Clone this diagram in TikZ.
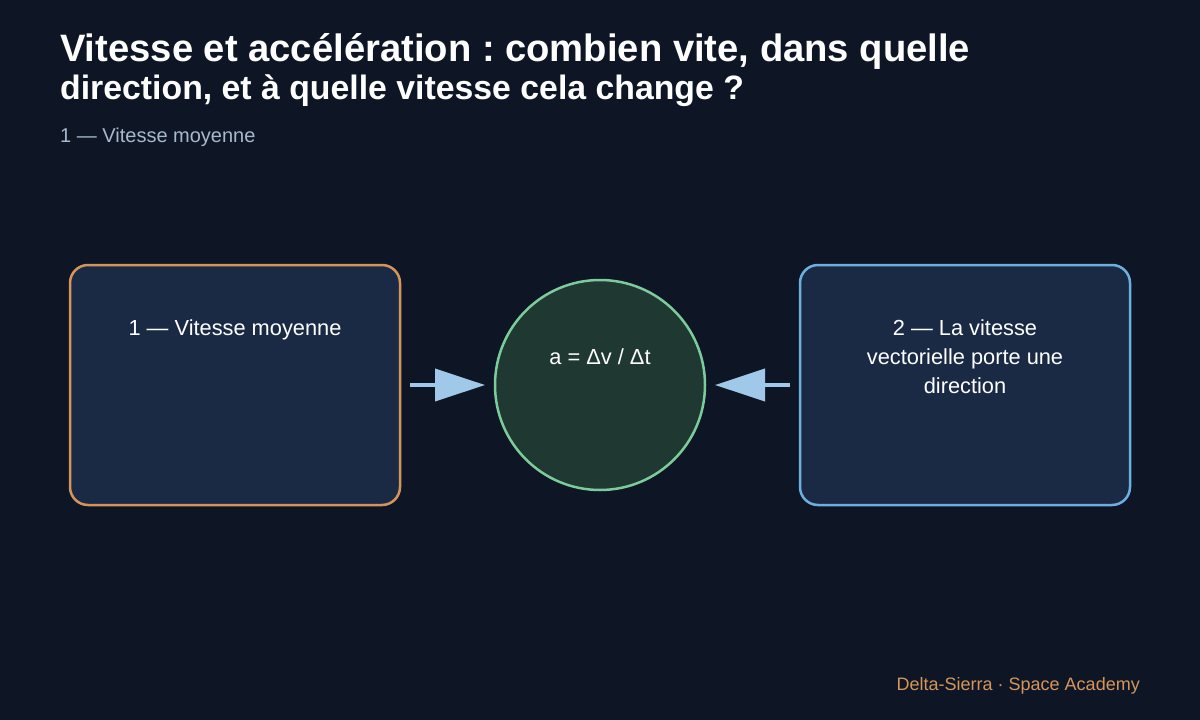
\documentclass[tikz,border=0pt]{standalone}
\usepackage{fontspec}
\setmainfont{Liberation Sans}
\usetikzlibrary{arrows.meta}
\frenchspacing
\definecolor{bg}{HTML}{0E1626}
\definecolor{boxfill}{HTML}{1A2A45}
\definecolor{orangeedge}{HTML}{D4955A}
\definecolor{blueedge}{HTML}{6CB0E0}
\definecolor{circfill}{HTML}{1F3832}
\definecolor{circedge}{HTML}{7CCB9B}
\definecolor{arrowcol}{HTML}{A0C8E8}
\definecolor{subcol}{HTML}{A8B8CC}
\definecolor{footcol}{HTML}{D4955A}
\tikzset{
  panel/.style={rounded corners=18pt, line width=2.5pt, fill=boxfill, minimum width=330pt, minimum height=240pt, inner sep=0pt},
  lbl/.style={text=white, font=\fontsize{21.8}{29}\selectfont, align=center, anchor=north, inner sep=0pt},
  conn/.style={draw=arrowcol, line width=4pt, -{Triangle[length=50pt,width=32pt]}},
}
\begin{document}
\begin{tikzpicture}[x=1pt,y=-1pt]
\fill[bg] (0,0) rectangle (1200,720);
\useasboundingbox (0,0) rectangle (1200,720);
\node[anchor=base west, inner sep=0pt, text=white, font=\fontsize{38.2}{40}\selectfont\bfseries] (t1) at (60,61) {Vitesse et accélération : combien vite, dans quelle};
\node[anchor=base west, inner sep=0pt, text=white, font=\fontsize{33.8}{40}\selectfont\bfseries] (t2) at (60,99) {direction, et à quelle vitesse cela change ?};
\node[anchor=base west, inner sep=0pt, text=subcol, font=\fontsize{20}{24}\selectfont] (sub) at (60,142) {1 — Vitesse moyenne};
\node[panel, draw=orangeedge] (b1) at (235,385) {};
\node[panel, draw=blueedge] (b2) at (965,385) {};
\node[circle, draw=circedge, fill=circfill, line width=2.5pt, minimum size=210pt, inner sep=0pt] (c) at (600,385) {};
\node[lbl] (l1) at (235,319.3) {1 — Vitesse moyenne};
\node[lbl] (l2) at (965,319.3) {2 — La vitesse\\vectorielle porte une\\direction};
\node[lbl] (lc) at (600,348.3) {a = Δv / Δt};
\coordinate (a1s) at (410,385);
\coordinate (a1e) at (485,385);
\coordinate (a2s) at (790,385);
\coordinate (a2e) at (715,385);
\draw[conn] (a1s) -- (a1e);
\draw[conn] (a2s) -- (a2e);
\node[anchor=base east, inner sep=0pt, text=footcol, font=\fontsize{18}{22}\selectfont] (foot) at (1140,690) {Delta-Sierra · Space Academy};
\end{tikzpicture}
\end{document}
